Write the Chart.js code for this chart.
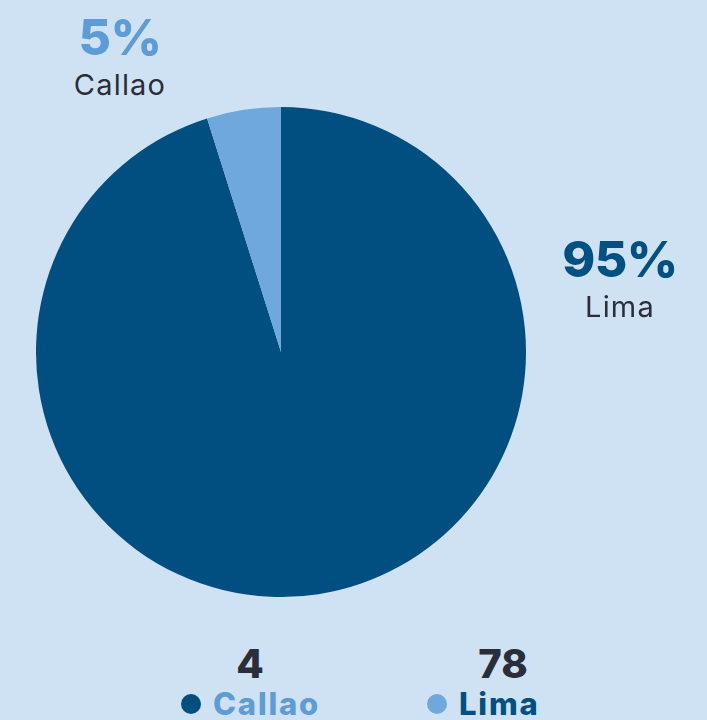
<!DOCTYPE html>
<html>
<head>
<meta charset="utf-8">
<script src="https://cdn.jsdelivr.net/npm/chart.js@4"></script>
<style>
  html, body { margin: 0; padding: 0; background: #cfe2f3; }
  body { width: 707px; height: 720px; position: relative; overflow: hidden; font-family: 'Inter', 'Open Sans', sans-serif; }
  #pieBox { position: absolute; left: 36px; top: 107px; width: 490px; height: 490px; }
  .pct { position: absolute; font-weight: 800; font-size: 50px; line-height: 1; text-align: center; letter-spacing: -0.5px; }
  .name { position: absolute; font-size: 29px; line-height: 1; color: #2a2d3a; text-align: center; letter-spacing: 1.2px; }
  .count { position: absolute; font-weight: 800; font-size: 40px; line-height: 1; color: #2a2d3a; text-align: center; }
  .leg { position: absolute; font-weight: 800; font-size: 31px; line-height: 1; white-space: nowrap; letter-spacing: 1.8px; }
  .dot { display: inline-block; width: 20px; height: 20px; border-radius: 50%; margin-right: 12px; vertical-align: 1px; }
</style>
</head>
<body>
<div id="pieBox"><canvas id="chartPie"></canvas></div>
<div id="labels"></div>
<script>
// ── DATA ─────────────────────────────────────────
const CATEGORIES = ['Lima', 'Callao'];
const COUNTS     = [78, 4];
const SLICE_COLORS = ['#004f80', '#6fa8dc'];

const total = COUNTS.reduce((s, v) => s + v, 0);
const pctOf = i => Math.round(COUNTS[i] / total * 100) + '%';

// ── PIE ──────────────────────────────────────────
new Chart(document.getElementById('chartPie'), {
  type: 'pie',
  data: {
    labels: CATEGORIES,
    datasets: [{ data: COUNTS, backgroundColor: SLICE_COLORS, borderWidth: 0 }]
  },
  options: {
    responsive: true, maintainAspectRatio: false, animation: false,
    layout: { padding: 0 },
    plugins: { legend: { display: false }, tooltip: { enabled: false } }
  }
});

// ── LABELS + LEGEND (html text) ──────────────────
const L = document.getElementById('labels');
L.innerHTML = `
  <div class="pct"  style="left:20px;top:12px;width:200px;color:#5e9cd6">${pctOf(1)}</div>
  <div class="name" style="left:20px;top:70px;width:200px">${CATEGORIES[1]}</div>
  <div class="pct"  style="left:520px;top:234px;width:200px;color:#005082">${pctOf(0)}</div>
  <div class="name" style="left:520px;top:292px;width:200px">${CATEGORIES[0]}</div>

  <div class="count" style="left:200px;top:644px;width:100px">${COUNTS[1]}</div>
  <div class="leg" style="left:181px;top:688px;color:#5e9cd6"><span class="dot" style="background:${SLICE_COLORS[0]}"></span>${CATEGORIES[1]}</div>
  <div class="count" style="left:453px;top:644px;width:100px">${COUNTS[0]}</div>
  <div class="leg" style="left:427px;top:688px;color:#005082"><span class="dot" style="background:${SLICE_COLORS[1]}"></span>${CATEGORIES[0]}</div>
`;
</script>
</body>
</html>
